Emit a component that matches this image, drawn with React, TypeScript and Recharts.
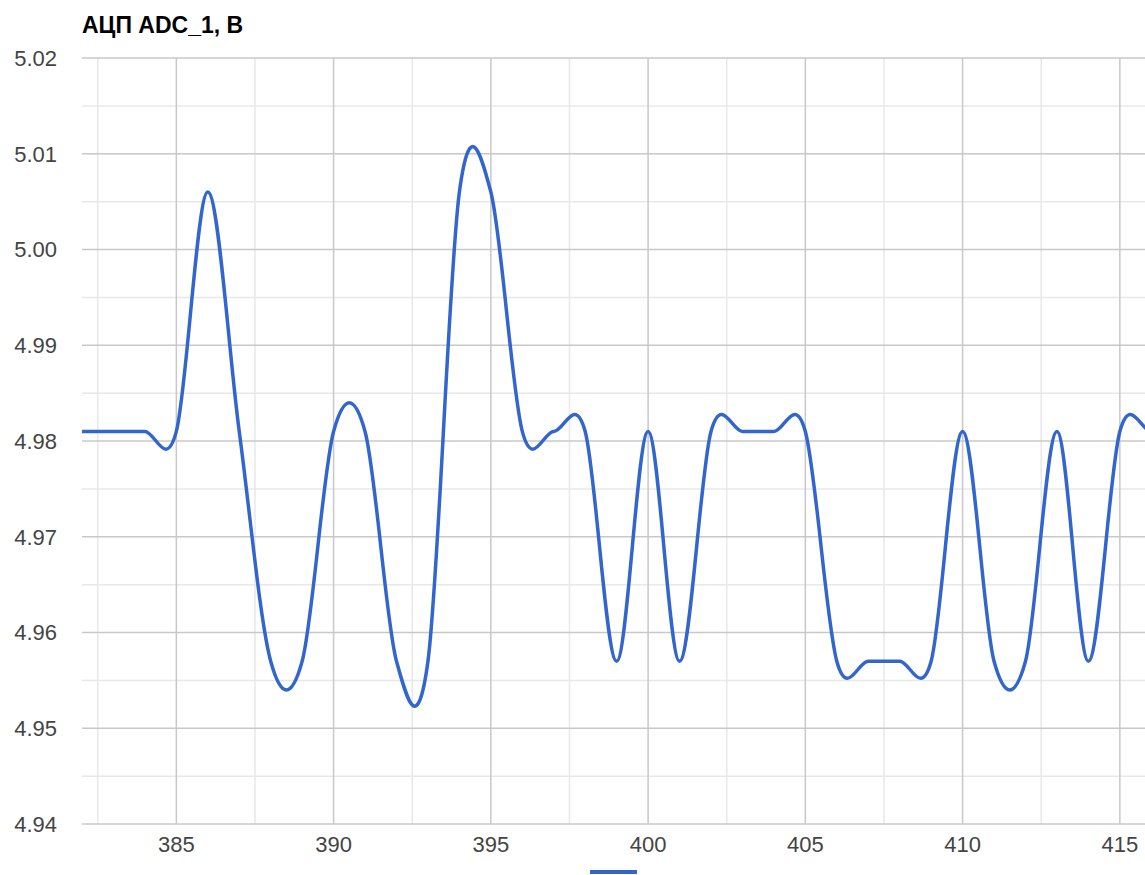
import { LineChart, Line, XAxis, YAxis, CartesianGrid, Legend } from "recharts";

// seconds on the x axis, ADC_1 reading in volts
const timeSec = [
  382, 383, 384, 385, 386, 387, 388, 389, 390, 391, 392, 393, 394, 395, 396,
  397, 398, 399, 400, 401, 402, 403, 404, 405, 406, 407, 408, 409, 410, 411,
  412, 413, 414, 415, 416, 417,
];
const adcVolts = [
  4.981, 4.981, 4.981, 4.981, 5.006, 4.981, 4.957, 4.957, 4.981, 4.981, 4.957,
  4.957, 5.006, 5.006, 4.981, 4.981, 4.981, 4.957, 4.981, 4.957, 4.981, 4.981,
  4.981, 4.981, 4.957, 4.957, 4.957, 4.957, 4.981, 4.957, 4.957, 4.981, 4.957,
  4.981, 4.981, 4.981,
];

const xTicks = [385, 390, 395, 400, 405, 410, 415];
const xMinor = [382.5, 387.5, 392.5, 397.5, 402.5, 407.5, 412.5];
const yTicks = [4.94, 4.95, 4.96, 4.97, 4.98, 4.99, 5.0, 5.01, 5.02];
const yMinor = [4.945, 4.955, 4.965, 4.975, 4.985, 4.995, 5.005, 5.015];

const data = timeSec.map((t, i) => ({ t, v: adcVolts[i] }));

const BLUE = "#3366cc";

// catmull-rom style curve (cardinal, tension 0), like google's "function" curve
const smoothCurve = (context: any) => {
  const k = 1 / 6;
  let x0 = NaN,
    x1 = NaN,
    x2 = NaN,
    y0 = NaN,
    y1 = NaN,
    y2 = NaN,
    n = 0;
  const seg = (x: number, y: number) => {
    context.bezierCurveTo(
      x1 + k * (x2 - x0),
      y1 + k * (y2 - y0),
      x2 + k * (x1 - x),
      y2 + k * (y1 - y),
      x2,
      y2
    );
  };
  return {
    areaStart() {},
    areaEnd() {},
    lineStart() {
      x0 = x1 = x2 = y0 = y1 = y2 = NaN;
      n = 0;
    },
    lineEnd() {
      if (n === 2) context.lineTo(x2, y2);
      else if (n === 3) seg(x1, y1);
    },
    point(x: number, y: number) {
      if (n === 0) {
        n = 1;
        context.moveTo(x, y);
      } else if (n === 1) {
        n = 2;
        x1 = x;
        y1 = y;
      } else {
        n = 3;
        seg(x, y);
      }
      x0 = x1;
      x1 = x2;
      x2 = x;
      y0 = y1;
      y1 = y2;
      y2 = y;
    },
  };
};

const LegendLine = () => (
  <div style={{ display: "flex", justifyContent: "center", height: 6 }}>
    <span
      style={{ display: "block", width: 47, height: 4, background: BLUE, marginTop: 2 }}
    />
  </div>
);

const tickStyle = { fill: "#444", fontSize: 22 };

export default function App() {
  return (
    <div
      style={{
        position: "absolute",
        left: 0,
        top: 0,
        width: 1145,
        height: 875,
        background: "#fff",
        overflow: "hidden",
        fontFamily: 'Arial, "Liberation Sans", sans-serif',
      }}
    >
      <div
        style={{
          position: "absolute",
          left: 82,
          top: 14,
          fontSize: 23,
          lineHeight: "23px",
          fontWeight: "bold",
          color: "#000",
        }}
      >
        АЦП ADC_1, В
      </div>
      <LineChart
        width={1145}
        height={875}
        data={data}
        margin={{ top: 58, right: 0, bottom: 15, left: 0 }}
      >
        <CartesianGrid
          horizontalValues={yMinor}
          verticalValues={xMinor}
          stroke="#e8e8e8"
          strokeWidth={1.5}
        />
        <CartesianGrid
          horizontalValues={yTicks}
          verticalValues={xTicks}
          stroke="#c8c8c8"
          strokeWidth={1.5}
        />
        <XAxis
          type="number"
          dataKey="t"
          domain={[382, 415.8]}
          ticks={xTicks}
          allowDataOverflow
          axisLine={false}
          tickLine={false}
          tickSize={0}
          tickMargin={12}
          height={30}
          tick={tickStyle}
        />
        <YAxis
          type="number"
          domain={[4.94, 5.02]}
          ticks={yTicks}
          tickFormatter={(v: number) => v.toFixed(2)}
          axisLine={false}
          tickLine={false}
          tickSize={0}
          tickMargin={25}
          width={82}
          tick={tickStyle}
        />
        <Legend
          verticalAlign="bottom"
          content={<LegendLine />}
          wrapperStyle={{ left: 82, width: 1063, bottom: 1, height: 6 }}
        />
        <Line
          type={smoothCurve as any}
          dataKey="v"
          stroke={BLUE}
          strokeWidth={3.5}
          dot={false}
          activeDot={false}
          isAnimationActive={false}
        />
      </LineChart>
    </div>
  );
}
